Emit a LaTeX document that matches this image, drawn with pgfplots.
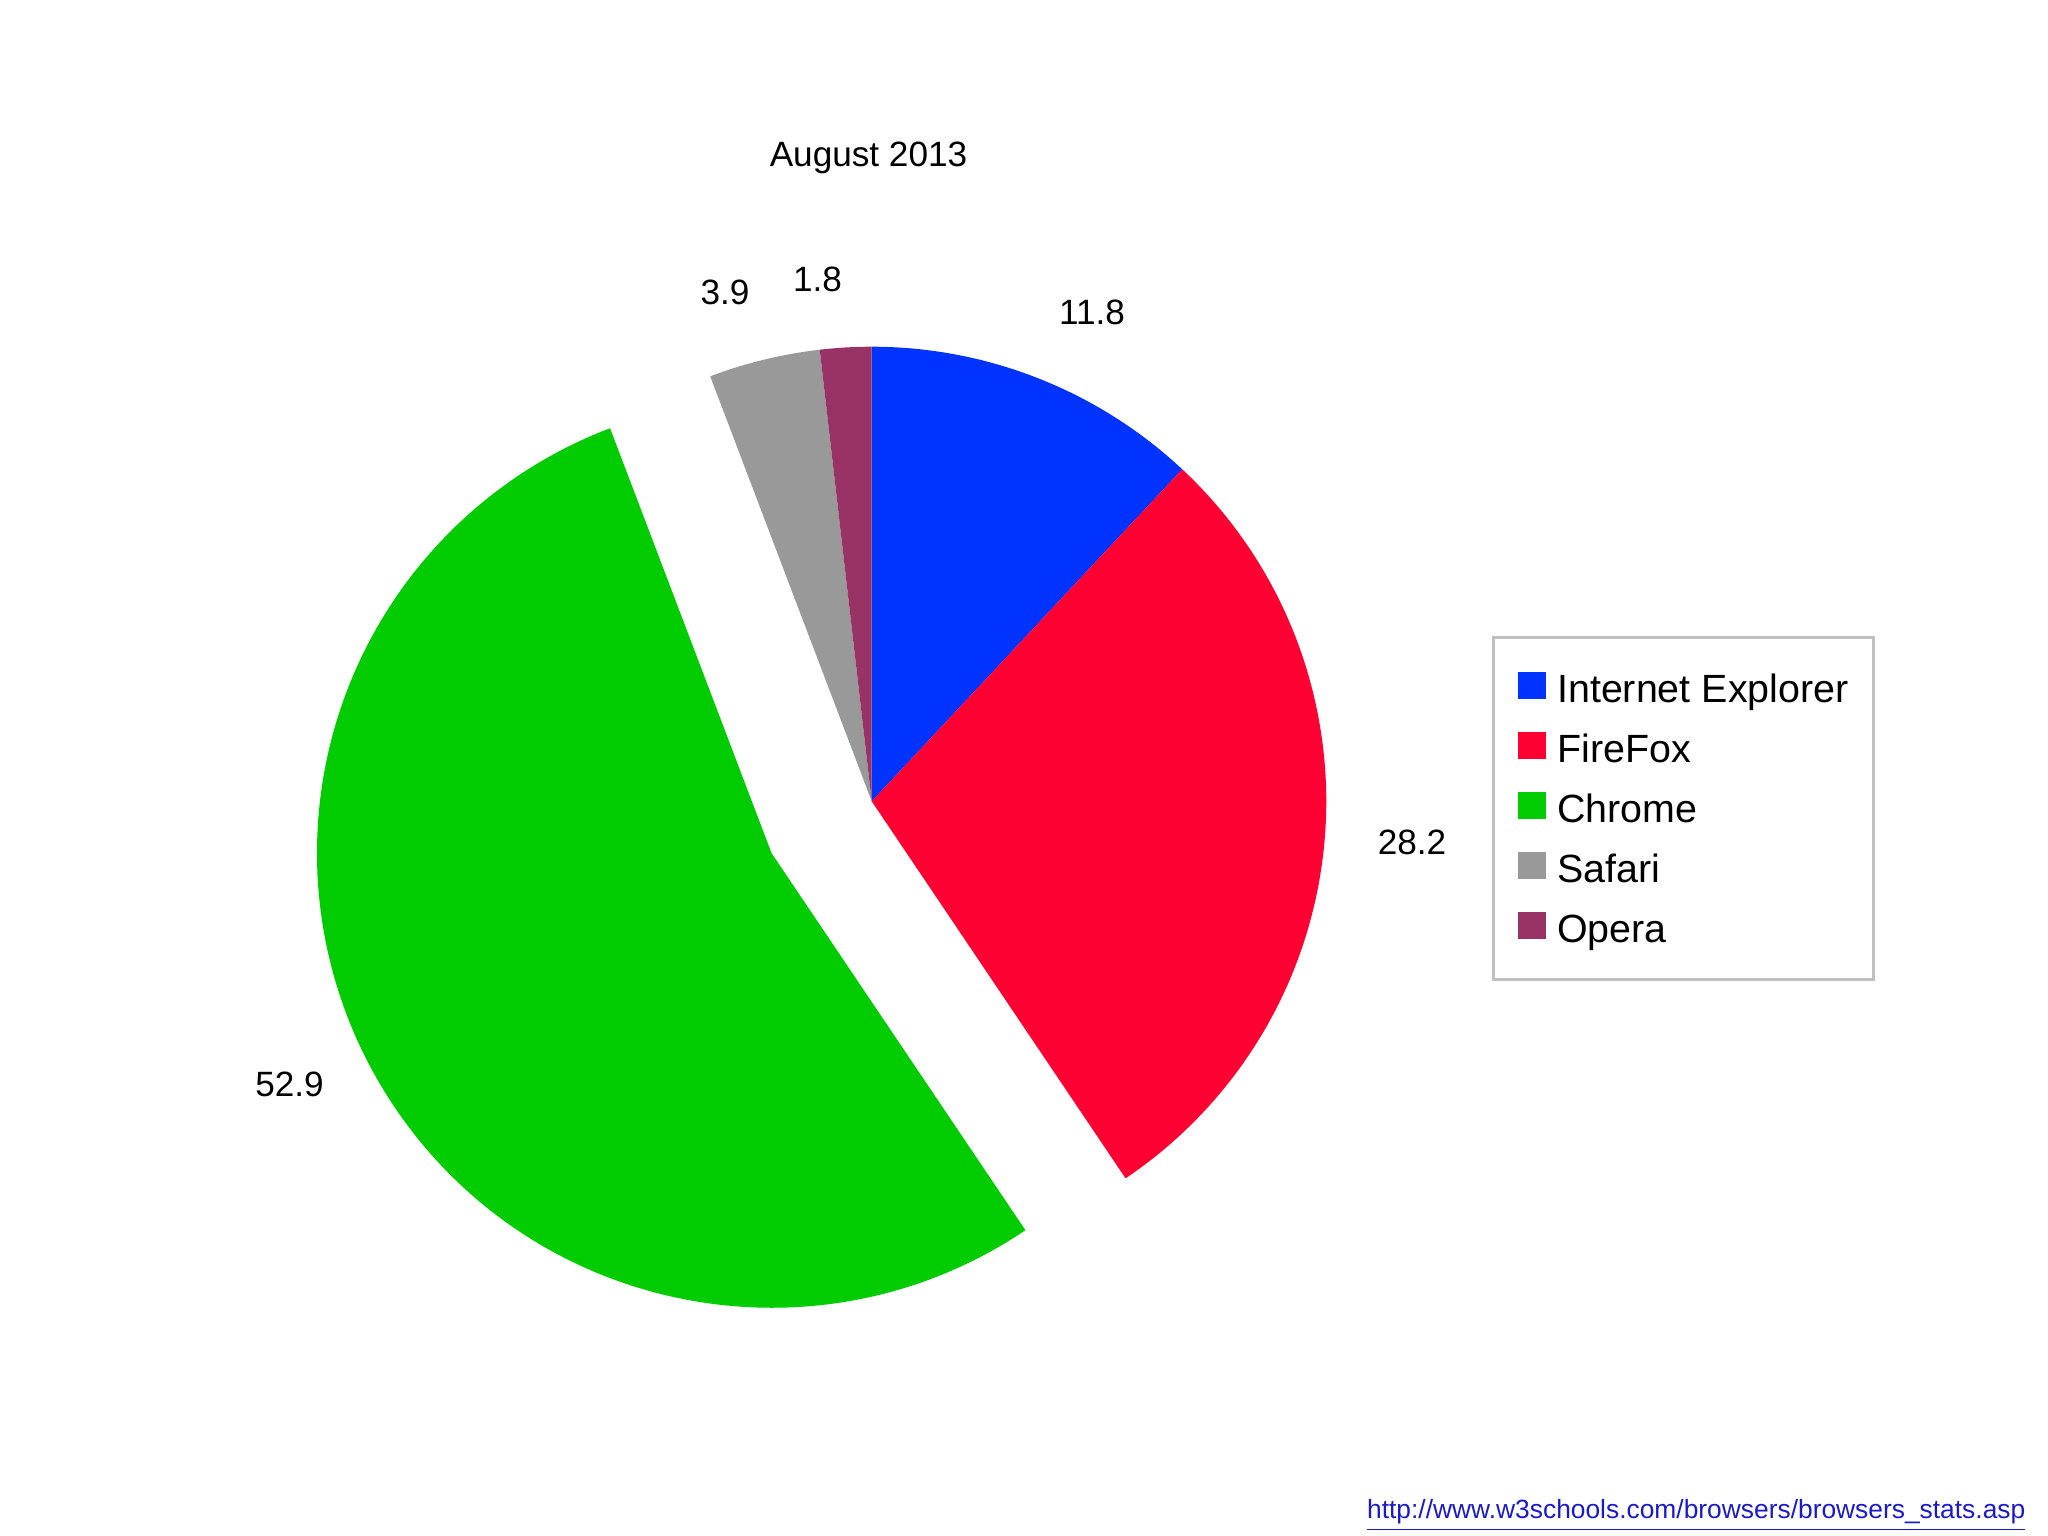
\documentclass[border=0pt]{standalone}
\usepackage{fontspec}
\setmainfont{Liberation Sans}
\usepackage{pgfplots}
\usepackage{pgfplotstable}
\pgfplotsset{compat=1.18}

\definecolor{ieblue}{HTML}{0033FF}
\definecolor{ffred}{HTML}{FF0033}
\definecolor{chgreen}{HTML}{00CC00}
\definecolor{sagray}{HTML}{999999}
\definecolor{oppurple}{HTML}{993366}
\definecolor{urlblue}{HTML}{1A1ACC}

\pgfplotstableread{
browser value
{Internet Explorer} 11.8
FireFox 28.2
Chrome 52.9
Safari 3.9
Opera 1.8
}\shares

\pgfplotstablegetelem{0}{value}\of\shares \let\vA\pgfplotsretval
\pgfplotstablegetelem{1}{value}\of\shares \let\vB\pgfplotsretval
\pgfplotstablegetelem{2}{value}\of\shares \let\vC\pgfplotsretval
\pgfplotstablegetelem{3}{value}\of\shares \let\vD\pgfplotsretval
\pgfplotstablegetelem{4}{value}\of\shares \let\vE\pgfplotsretval

\pgfmathsetmacro\tot{\vA+\vB+\vC+\vD+\vE}
\pgfmathsetmacro\aA{90}
\pgfmathsetmacro\aB{\aA-(\vA/\tot)*360}
\pgfmathsetmacro\aC{\aB-(\vB/\tot)*360}
\pgfmathsetmacro\aD{\aC-(\vC/\tot)*360}
\pgfmathsetmacro\aE{\aD-(\vD/\tot)*360}
\pgfmathsetmacro\aF{\aE-(\vE/\tot)*360}
% pie centre and explosion of the Chrome slice (units: 0.01cm)
\def\cx{871.7}\def\cy{734.7}
\def\R{4.543cm}
\pgfmathsetmacro\gm{(\aC+\aD)/2}
\pgfmathsetmacro\gx{\cx+112.8*cos(\gm)}
\pgfmathsetmacro\gy{\cy+112.8*sin(\gm)}

\newcommand\slice[5]{%
  \fill[#5] (axis cs:#1,#2) -- ([shift={(#3:\R)}]axis cs:#1,#2)
    arc[start angle=#3, end angle=#4, radius=\R] -- cycle;}

\begin{document}
\begin{tikzpicture}
\begin{axis}[
  x=0.01cm, y=0.01cm,
  xmin=0, xmax=2048, ymin=0, ymax=1536,
  hide axis, clip=false,
  legend cell align=left,
  legend style={at={(axis cs:1492,900)}, anchor=north west,
    draw=black!25, line width=0.8pt,
    inner xsep=0.25cm, inner ysep=0.28cm,
    row sep=4.07pt, column sep=0.11cm,
    font=\fontsize{11.2}{13.4}\selectfont,
    nodes={inner sep=0pt, text height=10.5pt, text depth=2.5pt}},
]
\path (axis cs:0,0) rectangle (axis cs:2048,1536);

\slice{\cx}{\cy}{\aA}{\aB}{ieblue}
\slice{\cx}{\cy}{\aB}{\aC}{ffred}
\slice{\gx}{\gy}{\aC}{\aD}{chgreen}
\slice{\cx}{\cy}{\aD}{\aE}{sagray}
\slice{\cx}{\cy}{\aE}{\aF}{oppurple}

\addlegendimage{legend image code/.code={\fill[ieblue] (0cm,-0.09cm) rectangle (0.25cm,0.15cm);}}
\addlegendentry{Internet Explorer}
\addlegendimage{legend image code/.code={\fill[ffred] (0cm,-0.09cm) rectangle (0.25cm,0.15cm);}}
\addlegendentry{FireFox}
\addlegendimage{legend image code/.code={\fill[chgreen] (0cm,-0.09cm) rectangle (0.25cm,0.15cm);}}
\addlegendentry{Chrome}
\addlegendimage{legend image code/.code={\fill[sagray] (0cm,-0.09cm) rectangle (0.25cm,0.15cm);}}
\addlegendentry{Safari}
\addlegendimage{legend image code/.code={\fill[oppurple] (0cm,-0.09cm) rectangle (0.25cm,0.15cm);}}
\addlegendentry{Opera}

\begin{scope}[every node/.style={font=\fontsize{10}{12}\selectfont, inner sep=0pt, anchor=base}]
\node at (axis cs:868.5,1369) {August 2013};
\node at (axis cs:1092,1211.5) {\vA};
\node at (axis cs:1412,681.5) {\vB};
\node at (axis cs:289.5,439) {\vC};
\node at (axis cs:725,1231) {\vD};
\node at (axis cs:817.5,1244) {\vE};
\end{scope}

\node[anchor=base east, inner sep=0pt, text=urlblue, font=\fontsize{7.5}{9}\selectfont]
  at (axis cs:2026,17) {\underline{http://www.w3schools.com/browsers/browsers\_stats.asp}};
\end{axis}
\end{tikzpicture}
\end{document}
